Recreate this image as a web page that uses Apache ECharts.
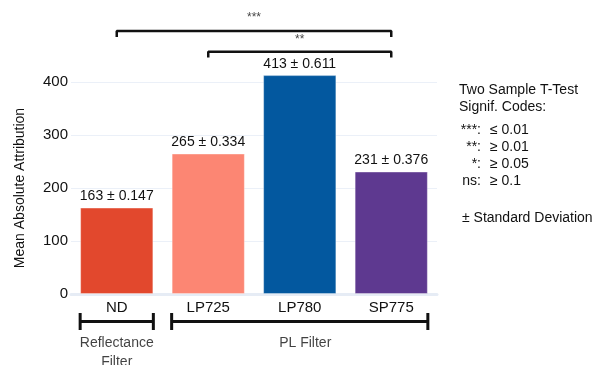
<!DOCTYPE html>
<html>
<head>
<meta charset="utf-8">
<script src="https://cdn.jsdelivr.net/npm/echarts@6/dist/echarts.min.js"></script>
<style>html,body{margin:0;padding:0;background:#fff}#c{width:595px;height:365px}</style>
</head>
<body>
<div id="c"></div>
<script>
const categories = ['ND', 'LP725', 'LP780', 'SP775'];
const means = [163, 265, 413, 231];
const stdDevs = ['0.147', '0.334', '0.611', '0.376'];
const barColors = ['#E2482D', '#FC8673', '#03589F', '#5E3990'];
const yTicks = [0, 100, 200, 300, 400];

// significance brackets: [fromIndex, toIndex, level, tickDepth, code, labelLevel]
const sigBrackets = [
  [0, 3, 496, 11, '***', 522],
  [1, 3, 457, 11, '**', 479]
];
// group brackets below axis: [fromIndex, toIndex, label, labelX, labelY]
const groupBrackets = [
  [0, 0, 'Reflectance\nFilter', 0, -110],
  [1, 3, 'PL Filter', 2.06, -92]
];
const groupLevel = -52, groupTick = 16;
const legendLines = [['***:', '≤ 0.01'], ['**:', '≥ 0.01'], ['*:', '≥ 0.05'], ['ns:', '≥ 0.1']];

const FONT = '"Liberation Sans", Arial, sans-serif';
const TXT = '#111';
const chart = echarts.init(document.getElementById('c'));

const series = [{
  type: 'bar',
  data: means.map((v, i) => ({ value: v, itemStyle: { color: barColors[i] } })),
  barCategoryGap: '20%',
  clip: false,
  itemStyle: { borderColor: 'rgba(255,255,255,0.35)', borderWidth: 1 },
  label: {
    show: true, position: 'top', distance: 4,
    fontFamily: FONT, fontSize: 14, color: TXT,
    formatter: p => means[p.dataIndex] + ' ± ' + stdDevs[p.dataIndex]
  },
  silent: true
}];

sigBrackets.forEach(b => {
  series.push({
    type: 'line', xAxisIndex: 1, clip: false, symbol: 'none', silent: true,
    lineStyle: { color: '#111', width: 2.5 },
    data: [[b[0], b[2] - b[3]], [b[0], b[2]], [b[1], b[2]], [b[1], b[2] - b[3]]]
  });
  series.push({
    type: 'scatter', xAxisIndex: 1, clip: false, symbolSize: 0, silent: true,
    data: [[(b[0] + b[1]) / 2, b[5]]],
    label: { show: true, position: 'inside', formatter: b[4], fontFamily: FONT, fontSize: 12, color: TXT }
  });
});

groupBrackets.forEach(g => {
  const x0 = g[0] - 0.4, x1 = g[1] + 0.4;
  series.push({
    type: 'line', xAxisIndex: 1, clip: false, symbol: 'none', silent: true,
    lineStyle: { color: '#111', width: 3 },
    data: [[x0, groupLevel + groupTick], [x0, groupLevel - groupTick], [x0, groupLevel],
           [x1, groupLevel], [x1, groupLevel + groupTick], [x1, groupLevel - groupTick]]
  });
  series.push({
    type: 'scatter', xAxisIndex: 1, clip: false, symbolSize: 0, silent: true,
    data: [[g[3], g[4]]],
    label: { show: true, position: 'inside', formatter: g[2], fontFamily: FONT, fontSize: 14, color: TXT, lineHeight: 19 }
  });
});

const graphics = [];
graphics.push({ type: 'text', left: 459, top: 83, style: { text: 'Two Sample T-Test', font: '14px ' + FONT, fill: TXT } });
graphics.push({ type: 'text', left: 459, top: 100, style: { text: 'Signif. Codes:', font: '14px ' + FONT, fill: TXT } });
legendLines.forEach((l, i) => {
  const y = 130.5 + i * 17;
  graphics.push({ type: 'text', x: 481, y: y, style: { text: l[0], font: '14px ' + FONT, fill: TXT, align: 'right', verticalAlign: 'middle' } });
  graphics.push({ type: 'text', x: 490, y: y, style: { text: l[1], font: '14px ' + FONT, fill: TXT, align: 'left', verticalAlign: 'middle' } });
});
graphics.push({ type: 'text', x: 462, y: 218, style: { text: '± Standard Deviation', font: '14px ' + FONT, fill: TXT, verticalAlign: 'middle' } });

chart.setOption({
  animation: false,
  grid: { left: 71, width: 366, top: 82, bottom: 71 },
  xAxis: [{
    type: 'category', data: categories,
    axisTick: { show: false },
    axisLine: { show: true, lineStyle: { color: '#e6ecf5', width: 3 } },
    axisLabel: { fontFamily: FONT, fontSize: 15, color: TXT, margin: 6 }
  }, {
    type: 'value', min: -0.5, max: 3.5, show: false
  }],
  yAxis: {
    type: 'value', min: yTicks[0], max: yTicks[yTicks.length - 1], interval: 100,
    name: 'Mean Absolute Attribution', nameLocation: 'middle', nameGap: 44,
    nameTextStyle: { fontFamily: FONT, fontSize: 14, color: TXT },
    axisLine: { show: false }, axisTick: { show: false },
    axisLabel: { fontFamily: FONT, fontSize: 15, color: TXT, margin: 3 },
    splitLine: { lineStyle: { color: '#ebf0f8', width: 1 } }
  },
  series: series,
  graphic: graphics
});
</script>
</body>
</html>
